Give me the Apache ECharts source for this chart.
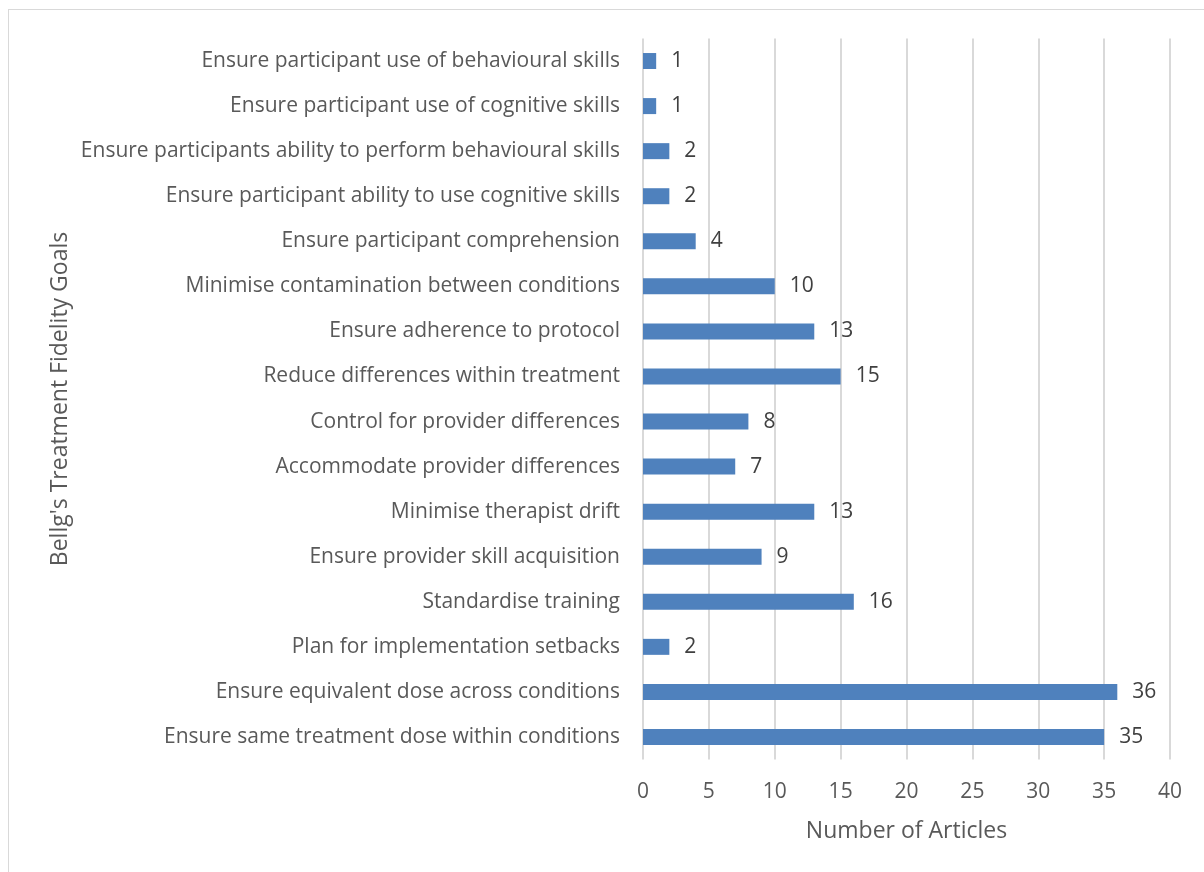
<!DOCTYPE html>
<html><head><meta charset="utf-8">
<script src="https://cdn.jsdelivr.net/npm/echarts@6/dist/echarts.min.js"></script>
<style>
html,body{margin:0;padding:0;background:#fff;}
#frame{position:absolute;left:8px;top:9px;width:1300px;height:1000px;border:1px solid #d9d9d9;box-sizing:border-box;}
#chart{position:absolute;left:0;top:0;width:1204px;height:872px;}
</style></head>
<body>
<div id="frame"></div>
<div id="chart"></div>
<script>
const categories = [
  "Ensure same treatment dose within conditions",
  "Ensure equivalent dose across conditions",
  "Plan for implementation setbacks",
  "Standardise training",
  "Ensure provider skill acquisition",
  "Minimise therapist drift",
  "Accommodate provider differences",
  "Control for provider differences",
  "Reduce differences within treatment",
  "Ensure adherence to protocol",
  "Minimise contamination between conditions",
  "Ensure participant comprehension",
  "Ensure participant ability to use cognitive skills",
  "Ensure participants ability to perform behavioural skills",
  "Ensure participant use of cognitive skills",
  "Ensure participant use of behavioural skills"
];
const articleCounts = [35, 36, 2, 16, 9, 13, 7, 8, 15, 13, 10, 4, 2, 2, 1, 1];
const xAxisTitle = "Number of Articles";
const yAxisTitle = "Bellg's Treatment Fidelity Goals";

const FONT = "Open Sans";
const chart = echarts.init(document.getElementById('chart'));
chart.setOption({
  animation: false,
  textStyle: { fontFamily: FONT },
  grid: { left: 643, right: 34, top: 38.5, bottom: 112.5, containLabel: false },
  xAxis: {
    type: 'value', min: 0, max: 40, interval: 5,
    name: xAxisTitle, nameLocation: 'middle', nameGap: 60,
    nameTextStyle: { fontSize: 23, color: '#595959', fontFamily: FONT },
    axisLine: { show: false }, axisTick: { show: false },
    axisLabel: { fontSize: 21, color: '#595959', margin: 22, fontFamily: FONT },
    splitLine: { show: true, lineStyle: { color: '#d9d9d9', width: 2 } }
  },
  yAxis: {
    type: 'category', data: categories,
    name: yAxisTitle, nameLocation: 'middle', nameGap: 571, nameRotate: 90,
    nameTextStyle: { fontSize: 23, color: '#595959', fontFamily: FONT },
    axisLine: { show: false }, axisTick: { show: false },
    axisLabel: { fontSize: 21, color: '#595959', margin: 23, fontFamily: FONT, padding: [4, 0, 0, 0] },
    splitLine: { show: false }
  },
  series: [{
    type: 'bar', data: articleCounts, barWidth: 16,
    itemStyle: { color: '#4f81bd' },
    label: { show: true, position: 'right', distance: 15, fontSize: 21, color: '#404040', fontFamily: FONT, padding: [4, 0, 0, 0] }
  }]
});
</script>
</body></html>
